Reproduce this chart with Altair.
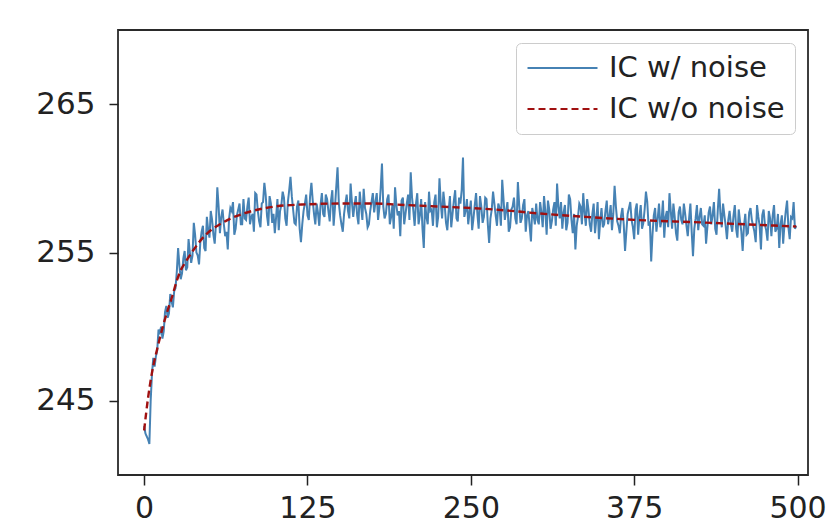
import altair as alt
import pandas as pd

# noisy series: even steps
even_x = list(range(0, 500, 2))
even_y = [
    243.3, 242.6, 242.1, 246.8, 247.3, 248.4, 249.6, 249.2, 251.0, 250.6,
    252.2, 251.3, 252.6, 255.3, 253.2, 254.6, 253.8, 255.9, 254.3, 257.0,
    255.0, 254.2, 256.4, 255.3, 257.4, 256.0, 257.2, 255.6, 259.4, 256.3,
    257.9, 256.1, 255.2, 258.0, 258.4, 256.6, 257.9, 256.9, 258.6, 257.2,
    258.7, 257.4, 256.4, 258.9, 257.1, 258.3, 259.7, 257.5, 258.8, 257.0,
    256.3, 258.6, 257.8, 259.1, 257.3, 258.4, 260.1, 257.9, 256.9, 258.5,
    255.7, 257.8, 258.9, 257.2, 259.7, 257.6, 258.3, 256.8, 259.0, 257.4,
    258.6, 257.1, 259.2, 258.0, 260.75, 257.5, 256.4, 258.3, 257.8, 259.65,
    257.4, 258.8, 256.9, 258.1, 259.3, 257.6, 256.9, 258.4, 257.7, 259.0,
    258.0, 261.0, 257.3, 258.6, 256.9, 258.2, 259.4, 257.5, 256.1, 258.7,
    257.6, 258.9, 260.4, 257.8, 258.3, 256.9, 258.6, 255.3, 257.4, 259.1,
    257.9, 258.4, 256.7, 260.0, 257.3, 258.2, 256.5, 258.8, 257.6, 259.2,
    257.1, 258.3, 261.4, 257.8, 256.9, 258.5, 257.3, 259.0, 256.6, 258.1,
    257.4, 258.6, 255.65, 257.9, 258.3, 256.8, 258.0, 259.9, 257.2, 258.4,
    256.7, 258.1, 257.3, 259.75, 257.0, 258.2, 256.4, 257.8, 255.75, 257.5,
    258.3, 256.9, 257.7, 258.8, 256.2, 257.9, 257.1, 258.4, 259.65, 257.3,
    256.6, 258.2, 257.0, 258.6, 256.3, 255.2, 257.4, 258.1, 259.0, 256.8,
    257.9, 256.4, 258.3, 257.2, 255.9, 258.0, 256.9, 258.5, 257.4, 256.5,
    259.5, 257.1, 256.3, 258.0, 255.1, 257.6, 258.4, 256.7, 257.9, 256.2,
    258.2, 257.0, 259.1, 256.8, 254.4, 257.5, 256.4, 258.3, 257.2, 256.0,
    257.8, 259.0, 256.6, 257.4, 255.8, 258.1, 256.9, 257.6, 256.1, 258.3,
    254.75, 257.3, 256.5, 258.0, 256.8, 255.6, 257.7, 256.9, 258.4, 256.2,
    259.3, 256.7, 257.5, 255.9, 257.8, 256.4, 258.2, 256.0, 257.1, 255.1,
    257.6, 256.3, 258.0, 256.8, 255.7, 257.4, 255.2, 257.9, 256.5, 257.8,
    256.1, 258.2, 256.6, 255.3, 257.5, 256.9, 258.5, 255.9, 257.3, 256.6,
]

# noisy series: odd steps
odd_x = list(range(1, 500, 2))
odd_y = [
    242.8, 242.4, 245.0, 247.9, 248.0, 249.8, 250.0, 249.7, 251.4, 250.9,
    251.7, 252.4, 253.7, 254.1, 253.6, 255.1, 254.0, 255.0, 254.8, 256.2,
    254.8, 255.7, 256.8, 255.1, 256.5, 257.8, 256.2, 257.0, 258.1, 257.4,
    256.9, 256.4, 257.3, 257.8, 256.2, 257.5, 258.3, 256.9, 257.3, 258.1,
    256.9, 257.6, 259.0, 257.8, 256.7, 258.4, 258.9, 256.8, 258.3, 257.6,
    257.4, 256.5, 258.2, 258.7, 256.8, 259.2, 258.8, 257.0, 258.1, 256.6,
    256.9, 258.3, 257.5, 258.8, 258.5, 256.9, 257.7, 258.2, 257.6, 258.9,
    257.8, 258.5, 256.8, 259.4, 258.3, 256.9, 257.6, 258.9, 257.3, 258.4,
    258.2, 257.5, 259.1, 257.2, 258.0, 256.7, 257.8, 259.0, 258.4, 257.2,
    259.3, 258.1, 257.6, 258.9, 257.4, 256.6, 258.2, 257.8, 258.5, 256.9,
    258.3, 257.2, 258.7, 256.8, 259.0, 257.5, 256.6, 258.4, 256.9, 257.8,
    256.8, 258.9, 257.4, 258.3, 259.1, 257.0, 257.8, 256.7, 258.5, 257.3,
    258.7, 259.2, 257.4, 258.6, 257.7, 256.5, 258.2, 257.6, 258.8, 257.0,
    258.7, 256.9, 257.3, 259.1, 257.5, 258.3, 256.8, 258.6, 257.8, 256.4,
    257.9, 258.7, 256.9, 258.2, 257.3, 258.6, 257.5, 256.8, 258.0, 256.9,
    257.2, 258.4, 256.7, 257.8, 258.5, 256.6, 257.9, 256.8, 258.1, 258.4,
    257.7, 256.5, 258.9, 257.2, 257.6, 256.8, 258.3, 256.9, 257.7, 258.6,
    256.9, 257.6, 256.3, 258.4, 257.1, 256.7, 257.8, 256.9, 258.2, 257.6,
    258.1, 256.8, 257.5, 256.9, 256.4, 258.0, 257.2, 255.9, 258.3, 257.4,
    256.6, 257.9, 258.4, 257.1, 256.2, 258.0, 257.3, 256.7, 258.5, 257.4,
    256.7, 257.8, 258.3, 256.3, 257.7, 257.2, 258.3, 256.8, 257.3, 256.4,
    256.6, 258.2, 257.4, 256.9, 257.5, 256.7, 258.1, 257.5, 256.6, 257.9,
    257.6, 258.3, 256.8, 257.2, 256.9, 257.5, 256.6, 257.9, 256.4, 256.8,
    256.2, 257.7, 257.2, 256.4, 258.2, 256.8, 257.5, 256.9, 255.8, 257.3,
    257.5, 256.4, 257.6, 256.9, 255.6, 257.8, 256.7, 257.4, 258.4, 256.8,
]

# noise-free series (smooth)
clean_x = [0, 3, 6, 10, 14, 18, 21, 25, 28, 32, 38, 44, 51, 58, 64, 77, 90, 100,
           125, 150, 175, 200, 225, 250, 275, 300, 338, 375, 420, 460, 499]
clean_y = [243.0, 245.2, 246.9, 248.5, 249.9, 251.1, 251.9, 253.1, 253.8, 254.4,
           255.2, 255.9, 256.5, 256.9, 257.2, 257.65, 257.95, 258.1,
           258.25, 258.3, 258.3, 258.2, 258.1, 258.0, 257.85, 257.65, 257.4,
           257.2, 257.05, 256.9, 256.75]

series_names = ["IC w/ noise", "IC w/o noise"]
x_ticks = [0, 125, 250, 375, 500]
y_ticks = [245, 255, 265]

df_noise = pd.DataFrame({"x": even_x + odd_x, "y": even_y + odd_y,
                         "series": series_names[0]}).sort_values("x")
df_clean = pd.DataFrame({"x": clean_x, "y": clean_y, "series": series_names[1]})

FONT = "DejaVu Sans"

xenc = alt.X("x:Q", scale=alt.Scale(domain=[-20, 508], nice=False, zero=False),
             axis=alt.Axis(values=x_ticks, title=None, grid=False, domain=False,
                           tickSize=10, tickWidth=1.5, tickColor="#222",
                           labelFontSize=30, labelFont=FONT, labelColor="#222",
                           labelPadding=8))
yenc = alt.Y("y:Q", scale=alt.Scale(domain=[240, 270], nice=False, zero=False),
             axis=alt.Axis(values=y_ticks, title=None, grid=False, domain=False,
                           tickSize=9, tickWidth=1.5, tickColor="#222",
                           labelFontSize=31, labelFont=FONT, labelColor="#222",
                           labelPadding=14))

color = alt.Color("series:N",
                  scale=alt.Scale(domain=series_names, range=["#4682b4", "#a01010"]),
                  legend=alt.Legend(title=None, orient="top-right", offset=13,
                                    symbolType="stroke", symbolSize=4900,
                                    symbolStrokeWidth=2.2,
                                    labelFontSize=29, labelFont=FONT, labelColor="#222",
                                    labelLimit=400, clipHeight=30,
                                    fillColor="white", strokeColor="#cccccc",
                                    cornerRadius=5, padding=10, rowPadding=11,
                                    labelOffset=10))
dash = alt.StrokeDash("series:N",
                      scale=alt.Scale(domain=series_names, range=[[1, 0], [7, 4]]),
                      legend=alt.Legend(title=None))

noise_line = alt.Chart(df_noise).mark_line(strokeWidth=2.0).encode(
    x=xenc, y=yenc, color=color, strokeDash=dash)
clean_line = alt.Chart(df_clean).mark_line(strokeWidth=2.4, interpolate="monotone").encode(
    x=xenc, y=yenc, color=color, strokeDash=dash)

chart = alt.layer(noise_line, clean_line).properties(
    width=690, height=445,
    autosize=alt.AutoSizeParams(type="none"),
    padding={"left": 110, "top": 22, "right": 19, "bottom": 52},
).configure_view(stroke="#2a2a2a", strokeWidth=1.8)

chart.save("out.html", embed_options={"renderer": "svg", "actions": False})
